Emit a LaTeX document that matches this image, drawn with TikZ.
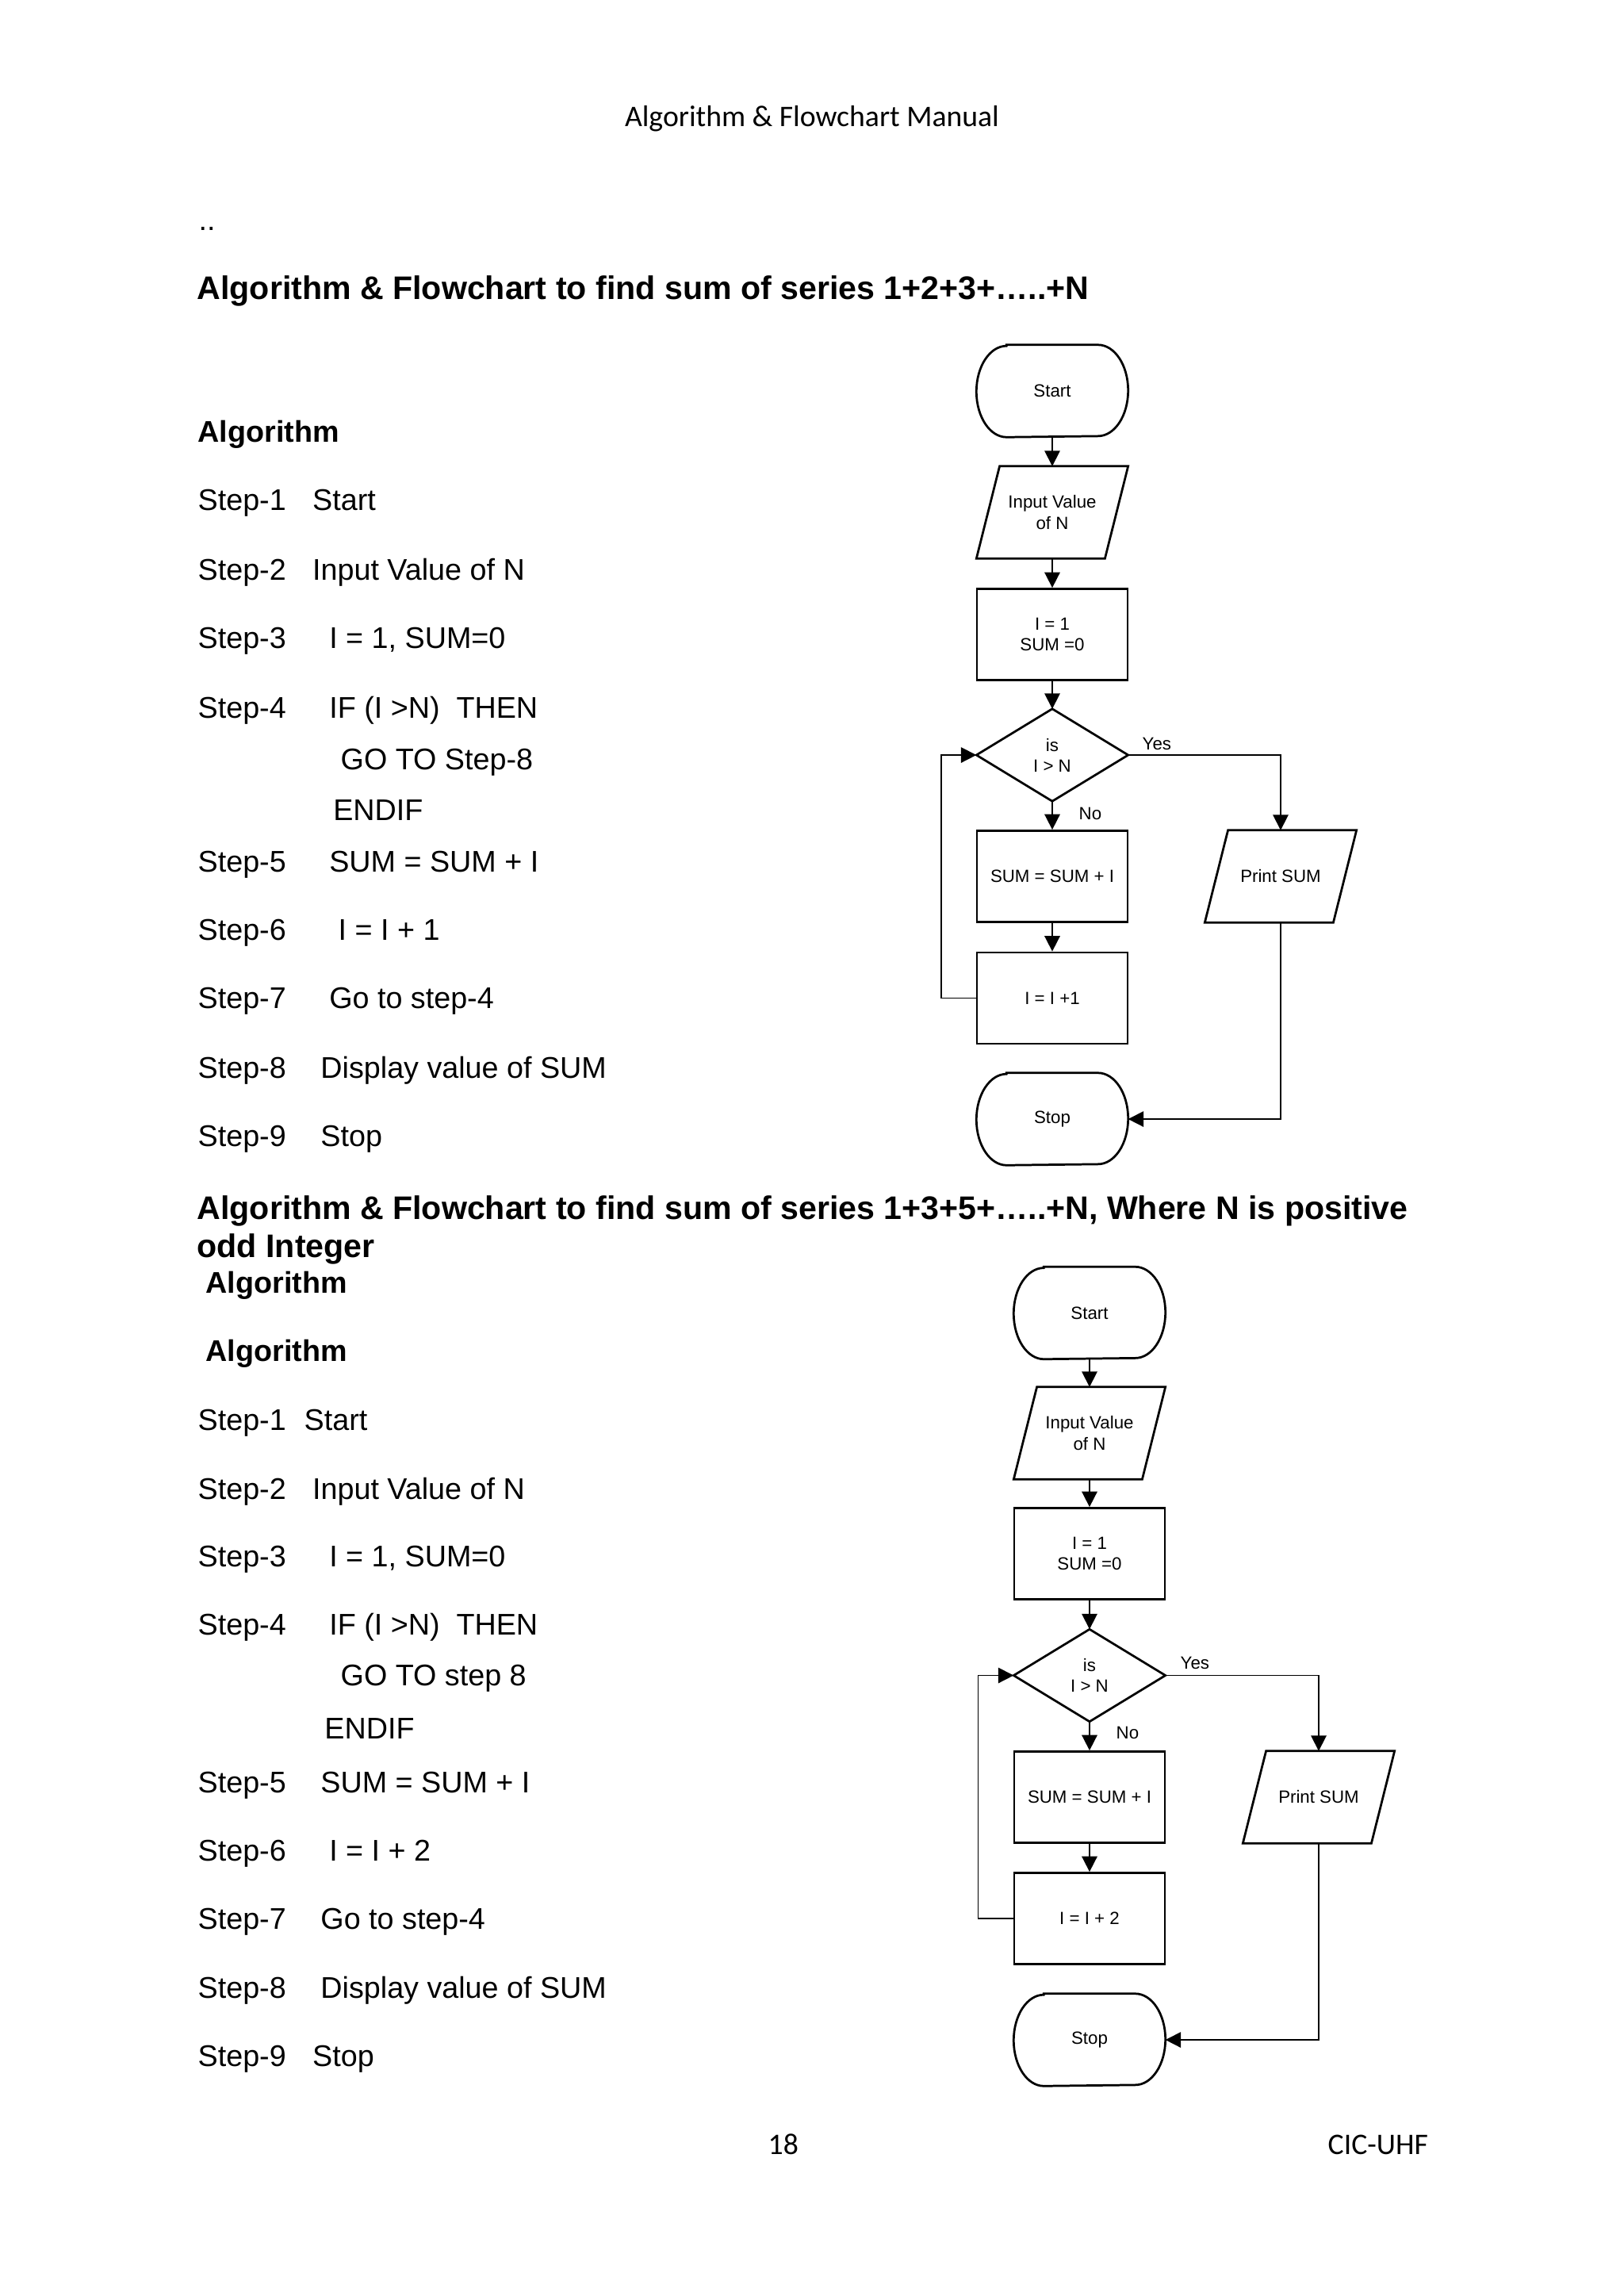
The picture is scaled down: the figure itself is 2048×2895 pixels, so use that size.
\documentclass[tikz,border=0pt]{standalone}
\usepackage{fontspec}
\setmainfont{Liberation Sans}
\newfontfamily\calibri{Carlito}
\usetikzlibrary{calc,arrows.meta}
\tikzset{
  txt/.style={inner sep=0pt, anchor=base west, font=\fontsize{11}{13}\selectfont},
  ttl/.style={inner sep=0pt, anchor=base west, font=\fontsize{12}{14}\selectfont\bfseries},
  hdr/.style={inner sep=0pt, anchor=base, font=\calibri\fontsize{11}{13}\selectfont},
  fc/.style={rectangle, inner sep=0pt, minimum width=19.48mm, minimum height=11.8mm,
     align=center, font=\fontsize{6.5}{7.6}\selectfont},
  fcbox/.style={fc, draw, line width=0.8pt},
  shapeline/.style={line width=0.8pt},
  lbl/.style={inner sep=0pt, anchor=base west, font=\fontsize{6.5}{7.6}\selectfont},
  conn/.style={line width=0.5pt, -{Triangle[length=2mm,width=2mm]}},
}
\newcommand\stadium[1]{%
  \draw[shapeline] ($(#1.north west)+(3.9mm,0)$) -- ($(#1.north east)+(-3.9mm,0)$)
    arc[start angle=90,end angle=-90,x radius=3.9mm,y radius=5.9mm]
    -- ($(#1.south west)+(3.9mm,0)$)
    arc[start angle=270,end angle=90,x radius=3.9mm,y radius=5.9mm] -- cycle;}
\newcommand\para[1]{%
  \draw[shapeline] ($(#1.north west)+(3.0mm,0)$) -- (#1.north east)
    -- ($(#1.south east)+(-3.0mm,0)$) -- (#1.south west) -- cycle;}
\newcommand\diam[1]{%
  \draw[shapeline] (#1.north) -- (#1.east) -- (#1.south) -- (#1.west) -- cycle;}
\newcommand\stepln[5]{%
  \node[txt] (#1a) at (249,#2) {#3};
  \node[txt] (#1b) at (#4,#2) {#5};}
\begin{document}
\begin{tikzpicture}[x=0.10254mm, y=-0.10254mm]
\useasboundingbox (0,0) rectangle (2048,2895);

% header / footer
\node[hdr] (hdr) at (1024,159) {Algorithm \& Flowchart Manual};
\node[hdr, anchor=base west] (pg) at (968,2716) {18};
\node[hdr, anchor=base west] (org) at (1674,2716) {CIC-UHF};

% part 1 text
\node[txt] (dots) at (250,290) {..};
\node[ttl] (t1) at (248,377) {Algorithm \& Flowchart to find sum of series 1+2+3+…..+N};
\node[ttl, font=\fontsize{11}{13}\selectfont\bfseries] (alg1) at (249,557) {Algorithm};
\stepln{p1s1}{643.6}{Step-1}{393.5}{Start}
\stepln{p1s2}{731}{Step-2}{393.5}{Input Value of N}
\stepln{p1s3}{817.6}{Step-3}{414.6}{I = 1, SUM=0}
\stepln{p1s4}{905}{Step-4}{414.6}{IF (I >N)\ \ THEN}
\node[txt] (p1go) at (429,970.6) {GO TO Step-8};
\node[txt] (p1end) at (419.6,1034.6) {ENDIF};
\stepln{p1s5}{1099.6}{Step-5}{414.6}{SUM = SUM + I}
\stepln{p1s6}{1185.7}{Step-6}{426}{I = I + 1}
\stepln{p1s7}{1271.8}{Step-7}{414.6}{Go to step-4}
\stepln{p1s8}{1359.5}{Step-8}{403.8}{Display value of SUM}
\stepln{p1s9}{1445.6}{Step-9}{403.8}{Stop}

% part 2 text
\node[ttl] (t2a) at (248,1537) {Algorithm \& Flowchart to find sum of series 1+3+5+…..+N, Where N is positive};
\node[ttl] (t2b) at (248,1585) {odd Integer};
\node[ttl, font=\fontsize{11}{13}\selectfont\bfseries] (alg2) at (259,1630) {Algorithm};
\node[ttl, font=\fontsize{11}{13}\selectfont\bfseries] (alg3) at (259,1716) {Algorithm};
\stepln{p2s1}{1803}{Step-1}{383}{Start}
\stepln{p2s2}{1890.7}{Step-2}{393.5}{Input Value of N}
\stepln{p2s3}{1975.8}{Step-3}{414.6}{I = 1, SUM=0}
\stepln{p2s4}{2061}{Step-4}{414.6}{IF (I >N)\ \ THEN}
\node[txt] (p2go) at (429,2125.8) {GO TO step 8};
\node[txt] (p2end) at (408.8,2192) {ENDIF};
\stepln{p2s5}{2260}{Step-5}{403.8}{SUM = SUM + I}
\stepln{p2s6}{2346}{Step-6}{414.6}{I = I + 2}
\stepln{p2s7}{2432.8}{Step-7}{403.8}{Go to step-4}
\stepln{p2s8}{2519.5}{Step-8}{403.8}{Display value of SUM}
\stepln{p2s9}{2605.6}{Step-9}{393.5}{Stop}

% flowchart 1
\node[fc] (s1) at (1327,493) {Start};
\node[fc] (in1) at (1327,646) {Input Value\\of N};
\node[fcbox] (init1) at (1327,800) {I = 1\\SUM =0};
\node[fc] (dec1) at (1327,952) {is\\I > N};
\node[fcbox] (sum1) at (1327,1105) {SUM = SUM + I};
\node[fcbox] (inc1) at (1327,1258.5) {I = I +1};
\node[fc] (stop1) at (1327,1411) {Stop};
\node[fc] (pr1) at (1615,1105) {Print SUM};
\stadium{s1}\para{in1}\diam{dec1}\stadium{stop1}\para{pr1}
\coordinate (lp1) at (1187,1258.5);
\draw[conn] (s1.south) -- (in1.north);
\draw[conn] (in1.south) -- (init1.north);
\draw[conn] (init1.south) -- (dec1.north);
\draw[conn] (dec1.south) -- (sum1.north);
\draw[conn] (sum1.south) -- (inc1.north);
\draw[conn] (inc1.west) -- (inc1.west -| lp1) -- (dec1.west -| lp1) -- (dec1.west);
\draw[conn] (dec1.east) -| (pr1.north);
\draw[conn] (pr1.south) |- (stop1.east);
\node[lbl] (yes1) at (1440,945) {Yes};
\node[lbl] (no1) at (1360,1033) {No};

% flowchart 2
\node[fc] (s2) at (1374,1655.5) {Start};
\node[fc] (in2) at (1374,1807) {Input Value\\of N};
\node[fcbox] (init2) at (1374,1959) {I = 1\\SUM =0};
\node[fc] (dec2) at (1374,2112.5) {is\\I > N};
\node[fcbox] (sum2) at (1374,2266) {SUM = SUM + I};
\node[fcbox] (inc2) at (1374,2419) {I = I + 2};
\node[fc] (stop2) at (1374,2572) {Stop};
\node[fc] (pr2) at (1663,2266) {Print SUM};
\stadium{s2}\para{in2}\diam{dec2}\stadium{stop2}\para{pr2}
\coordinate (lp2) at (1233.5,2419);
\draw[conn] (s2.south) -- (in2.north);
\draw[conn] (in2.south) -- (init2.north);
\draw[conn] (init2.south) -- (dec2.north);
\draw[conn] (dec2.south) -- (sum2.north);
\draw[conn] (sum2.south) -- (inc2.north);
\draw[conn] (inc2.west) -- (inc2.west -| lp2) -- (dec2.west -| lp2) -- (dec2.west);
\draw[conn] (dec2.east) -| (pr2.north);
\draw[conn] (pr2.south) |- (stop2.east);
\node[lbl] (yes2) at (1488,2104) {Yes};
\node[lbl] (no2) at (1407,2192) {No};
\end{tikzpicture}
\end{document}
